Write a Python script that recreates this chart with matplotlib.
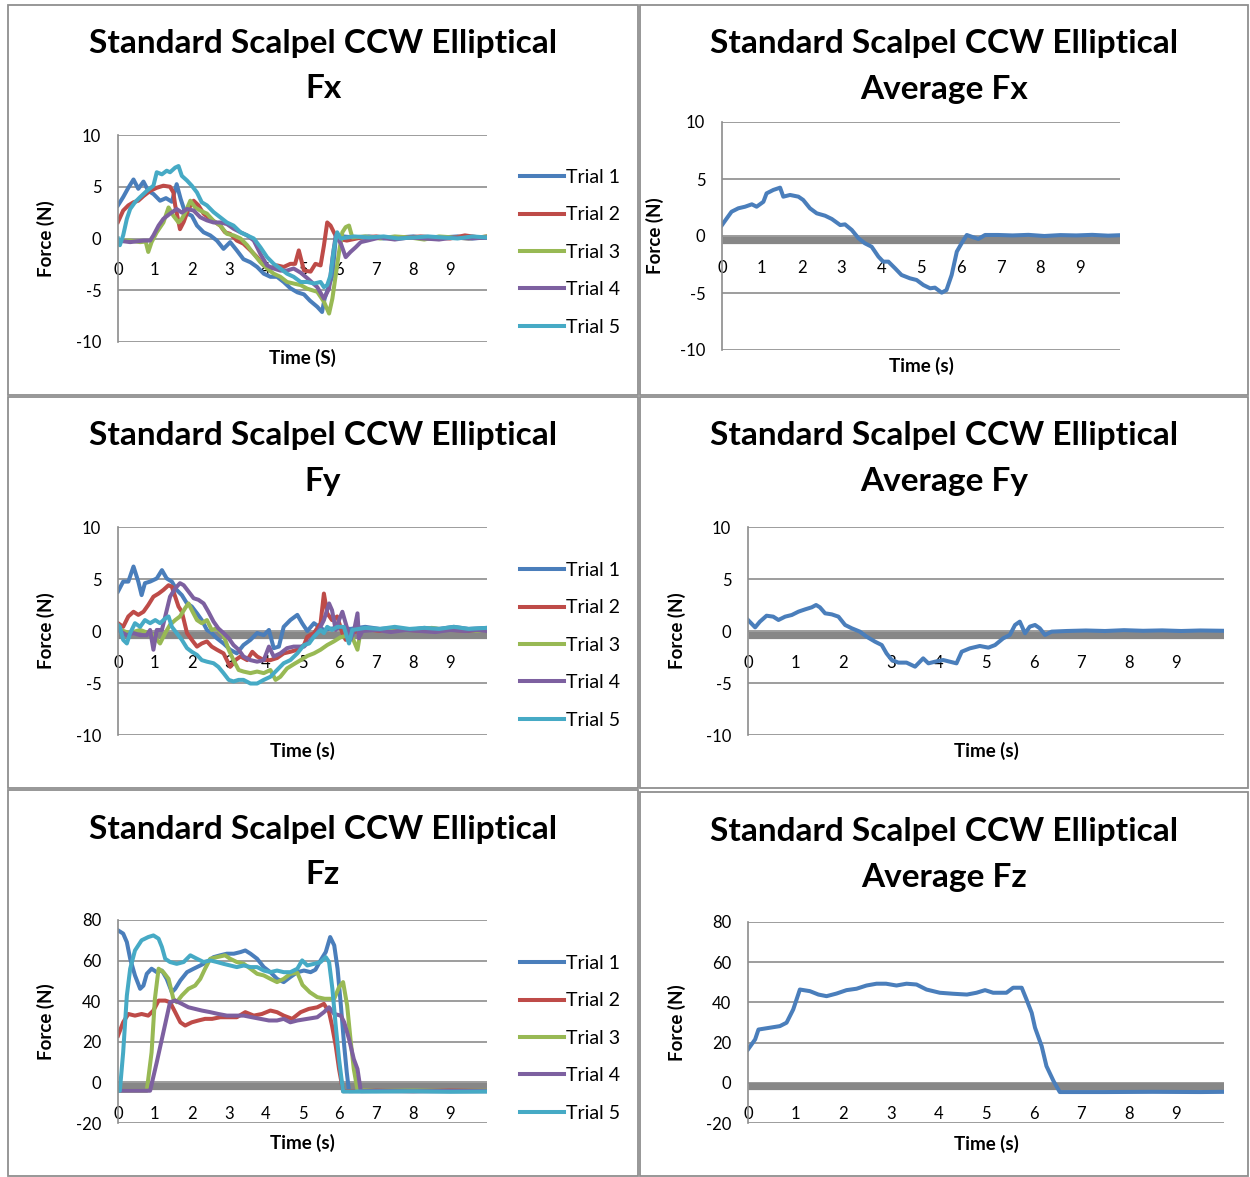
import matplotlib
matplotlib.use("Agg")
import matplotlib.pyplot as plt
import matplotlib.transforms as mtransforms
from matplotlib.patches import Rectangle

W, H = 1250, 1177
plt.rcParams['font.family'] = ['Lato', 'DejaVu Sans']
plt.rcParams['axes.unicode_minus'] = False

trial_labels = ['Trial 1', 'Trial 2', 'Trial 3', 'Trial 4', 'Trial 5']
trial_colors = ['#4A7EBB', '#BE4B48', '#98B954', '#7D60A0', '#46AAC5']
x_ticks = [0, 1, 2, 3, 4, 5, 6, 7, 8, 9]

# ---------------- Fx, five trials ----------------
fx1_t = [0.0, 0.14, 0.28, 0.42, 0.55, 0.69, 0.82, 0.96, 1.14, 1.3, 1.46, 1.59, 1.7, 1.82, 2.0, 2.14, 2.32, 2.5, 2.68, 2.86,
         3.04, 3.22, 3.4, 3.59, 3.77, 3.95, 4.13, 4.31, 4.49, 4.67, 4.86, 5.04, 5.2, 5.4, 5.53, 5.6, 5.81, 5.9, 6.1, 6.4,
         6.8, 7.2, 7.6, 8.0, 8.4, 8.8, 9.2, 9.6, 10.0]
fx1 = [3.2, 4.0, 4.9, 5.7, 4.8, 5.5, 4.6, 4.3, 3.65, 3.9, 3.55, 5.25, 3.8, 2.5, 2.2, 1.25, 0.6, 0.3, -0.2, -1.0,
       -0.35, -1.15, -2.0, -2.3, -2.75, -3.4, -3.7, -3.7, -4.2, -4.8, -5.2, -5.4, -6.0, -6.6, -7.1, -5.8, -3.6, 0.0, 0.2, 0.1,
       0.2, 0.0, 0.1, 0.2, 0.0, 0.1, 0.2, 0.0, 0.1]
fx2_t = [0.0, 0.14, 0.28, 0.42, 0.55, 0.69, 0.87, 1.05, 1.23, 1.41, 1.5, 1.55, 1.68, 1.78, 1.91, 2.05, 2.18, 2.32, 2.5, 2.77,
         2.9, 3.04, 3.22, 3.4, 3.59, 3.77, 3.95, 4.13, 4.31, 4.49, 4.67, 4.8, 4.9, 5.04, 5.22, 5.35, 5.49, 5.58, 5.67, 5.76,
         5.85, 5.94, 6.2, 6.6, 7.0, 7.4, 7.8, 8.2, 8.6, 9.0, 9.4, 9.8, 10.0]
fx2 = [1.6, 2.7, 3.2, 3.5, 3.65, 4.1, 4.6, 4.9, 5.1, 5.0, 4.45, 3.2, 0.9, 1.6, 2.85, 3.65, 3.2, 2.4, 1.9, 1.25,
       0.6, 0.45, -0.2, -0.5, -1.15, -1.8, -2.6, -2.9, -2.6, -2.75, -2.45, -2.45, -1.15, -3.1, -3.2, -2.45, -2.6, -0.7, 1.55, 1.25,
       0.6, 0.0, -0.2, 0.1, 0.2, 0.0, 0.1, 0.2, 0.1, 0.0, 0.3, 0.1, 0.2]
fx3_t = [0.0, 0.33, 0.6, 0.75, 0.82, 0.91, 1.05, 1.23, 1.37, 1.5, 1.64, 1.73, 1.82, 1.96, 2.09, 2.23, 2.41, 2.59, 2.77, 2.95,
         3.13, 3.32, 3.5, 3.68, 3.86, 4.04, 4.22, 4.4, 4.58, 4.76, 4.95, 5.13, 5.4, 5.58, 5.72, 5.81, 5.9, 5.99, 6.08, 6.17,
         6.26, 6.35, 6.7, 7.1, 7.5, 7.9, 8.3, 8.7, 9.1, 9.5, 10.0]
fx3 = [-0.2, -0.2, -0.35, -0.3, -1.3, -0.35, 0.6, 1.55, 3.0, 2.2, 1.55, 1.9, 2.5, 3.65, 3.0, 2.7, 2.4, 1.7, 1.25, 0.45,
       0.3, 0.0, -0.65, -1.5, -2.3, -2.9, -3.4, -3.7, -4.2, -4.35, -4.5, -4.85, -5.15, -6.1, -7.25, -5.8, -3.55, -1.3, 0.6, 1.1,
       1.25, 0.1, 0.2, 0.0, 0.2, 0.1, -0.1, 0.2, 0.1, 0.0, 0.2]
fx4_t = [0.0, 0.33, 0.69, 0.87, 0.96, 1.1, 1.23, 1.41, 1.59, 1.73, 1.87, 2.05, 2.23, 2.41, 2.59, 2.77, 2.95, 3.13, 3.32, 3.5,
         3.68, 3.86, 4.04, 4.22, 4.4, 4.58, 4.76, 4.95, 5.15, 5.4, 5.58, 5.72, 5.81, 5.9, 6.04, 6.17, 6.3, 6.44, 6.58, 6.76,
         7.1, 7.5, 7.9, 8.3, 8.7, 9.1, 9.5, 10.0]
fx4 = [-0.2, -0.35, -0.2, -0.2, 0.3, 1.25, 1.9, 2.4, 2.85, 2.5, 2.85, 2.7, 2.05, 1.75, 1.55, 1.55, 1.4, 0.95, 0.6, 0.3,
       -0.2, -1.5, -2.6, -2.9, -3.1, -3.1, -2.9, -3.3, -3.9, -4.7, -5.8, -4.85, -1.95, 0.3, -0.5, -1.8, -1.3, -0.85, -0.35, -0.2,
       0.1, -0.1, 0.1, 0.0, -0.1, 0.1, 0.0, 0.1]
fx5_t = [0.0, 0.05, 0.14, 0.24, 0.33, 0.46, 0.6, 0.78, 0.96, 1.05, 1.19, 1.32, 1.41, 1.55, 1.64, 1.73, 1.87, 2.0, 2.14, 2.27,
         2.41, 2.59, 2.77, 2.95, 3.13, 3.32, 3.5, 3.68, 3.86, 4.04, 4.22, 4.4, 4.58, 4.76, 4.95, 5.13, 5.31, 5.49, 5.58, 5.67,
         5.76, 5.85, 5.94, 6.03, 6.4, 6.8, 7.2, 7.6, 8.0, 8.4, 8.8, 9.2, 9.6, 10.0]
fx5 = [0.0, -0.65, 0.3, 1.9, 2.85, 3.5, 4.0, 4.6, 5.1, 6.4, 6.2, 6.55, 6.4, 6.85, 7.0, 6.05, 5.6, 5.1, 4.45, 3.5,
       3.2, 2.55, 2.05, 1.55, 1.25, 0.6, 0.3, 0.0, -0.85, -1.8, -2.45, -2.9, -3.4, -3.7, -4.2, -4.2, -4.35, -4.2, -4.7, -4.5,
       -3.55, -1.0, 0.6, 0.0, 0.2, 0.1, 0.2, 0.0, 0.1, 0.2, 0.1, 0.0, 0.2, 0.1]

# ---------------- Fy, five trials ----------------
fy1_t = [0.0, 0.14, 0.28, 0.42, 0.55, 0.64, 0.73, 0.87, 1.05, 1.19, 1.32, 1.46, 1.59, 1.73, 1.87, 2.0, 2.14, 2.27, 2.41, 2.54,
         2.68, 2.86, 3.04, 3.22, 3.4, 3.59, 3.77, 3.95, 4.09, 4.22, 4.36, 4.49, 4.67, 4.86, 4.99, 5.13, 5.31, 5.45, 5.58, 5.9,
         6.3, 6.7, 7.1, 7.5, 7.9, 8.3, 8.7, 9.1, 9.5, 10.0]
fy1 = [3.8, 4.75, 4.75, 6.2, 4.75, 3.45, 4.6, 4.75, 5.05, 5.85, 5.05, 4.75, 3.95, 3.45, 2.65, 2.35, 1.7, 1.05, 0.1, -0.2,
       -0.7, -1.2, -1.8, -2.15, -1.35, -0.85, -0.2, -0.4, 0.1, -1.65, -1.5, 0.4, 1.05, 1.55, 0.75, 0.0, 0.75, 0.4, 0.1, 0.3,
       0.2, 0.4, 0.2, 0.3, 0.1, 0.3, 0.2, 0.4, 0.2, 0.3]
fy2_t = [0.0, 0.14, 0.28, 0.42, 0.55, 0.69, 0.82, 0.96, 1.1, 1.23, 1.37, 1.46, 1.55, 1.64, 1.73, 1.87, 2.0, 2.14, 2.27, 2.41,
         2.54, 2.68, 2.86, 3.04, 3.18, 3.32, 3.5, 3.64, 3.77, 3.95, 4.13, 4.31, 4.49, 4.67, 4.86, 5.04, 5.13, 5.31, 5.49, 5.58,
         5.67, 5.8, 5.94, 6.08, 6.17, 6.3, 6.7, 7.1, 7.5, 7.9, 8.3, 8.7, 9.1, 9.5, 10.0]
fy2 = [0.75, 0.4, 1.4, 1.85, 1.55, 1.85, 2.5, 3.3, 3.6, 3.95, 4.4, 4.25, 3.3, 2.35, 1.85, -0.2, -0.85, -1.5, -1.2, -1.0,
       -1.5, -1.8, -2.15, -3.45, -2.8, -2.45, -2.8, -2.0, -2.45, -2.8, -2.8, -2.6, -2.15, -2.0, -1.8, -1.35, -0.55, -0.2, 0.75, 3.6,
       1.7, 1.05, 1.4, -0.2, -0.85, -0.2, 0.2, 0.0, 0.2, 0.1, 0.0, 0.2, 0.1, 0.0, 0.2]
fy3_t = [0.0, 0.3, 0.6, 0.9, 1.0, 1.14, 1.28, 1.41, 1.55, 1.68, 1.82, 1.91, 2.0, 2.14, 2.27, 2.41, 2.54, 2.68, 2.86, 3.0,
         3.13, 3.27, 3.4, 3.59, 3.77, 3.95, 4.13, 4.27, 4.4, 4.58, 4.76, 4.95, 5.13, 5.31, 5.49, 5.67, 5.85, 6.03, 6.2, 6.35,
         6.49, 6.58, 6.9, 7.3, 7.7, 8.1, 8.5, 8.9, 9.3, 9.7, 10.0]
fy3 = [0.2, -0.2, 0.1, -0.3, -0.6, -1.2, -0.2, 0.6, 1.05, 1.4, 2.2, 2.65, 2.0, 1.05, 0.75, 1.05, 0.1, 0.25, -0.4, -1.8,
       -2.8, -3.75, -3.9, -4.05, -3.9, -4.05, -3.75, -4.7, -4.4, -3.6, -3.2, -2.8, -2.4, -2.15, -1.8, -1.35, -1.0, -0.6, -0.45, -0.6,
       -1.8, 0.1, 0.2, 0.0, 0.2, 0.1, 0.3, 0.1, 0.2, 0.0, 0.2]
fy4_t = [0.0, 0.24, 0.42, 0.6, 0.78, 0.87, 0.96, 1.05, 1.19, 1.28, 1.41, 1.55, 1.68, 1.78, 1.91, 2.05, 2.18, 2.32, 2.45, 2.59,
         2.72, 2.86, 3.0, 3.13, 3.27, 3.4, 3.59, 3.77, 3.95, 4.09, 4.22, 4.4, 4.58, 4.76, 5.04, 5.22, 5.4, 5.58, 5.72, 5.8,
         5.9, 5.99, 6.08, 6.17, 6.3, 6.4, 6.49, 6.53, 6.62, 7.0, 7.4, 7.8, 8.2, 8.6, 9.0, 9.4, 9.8, 10.0]
fy4 = [0.1, -0.4, -0.2, -0.4, -0.4, 0.1, -1.8, 0.1, 0.1, 1.4, 3.3, 4.1, 4.6, 4.4, 3.8, 3.15, 3.0, 2.65, 1.85, 0.9,
       0.25, -0.2, -0.7, -1.35, -1.8, -2.45, -2.8, -2.95, -2.8, -1.5, -2.45, -2.15, -1.65, -1.5, -1.5, -0.85, -0.2, 1.05, 2.65, 2.0,
       0.1, 1.05, 1.85, 0.75, -0.85, 0.1, 1.7, -0.7, 0.0, 0.1, -0.1, 0.1, 0.0, -0.1, 0.1, 0.0, 0.1, 0.0]
fy5_t = [0.0, 0.05, 0.14, 0.24, 0.33, 0.46, 0.6, 0.73, 0.87, 1.01, 1.14, 1.28, 1.37, 1.46, 1.59, 1.73, 1.87, 2.0, 2.14, 2.27,
         2.41, 2.59, 2.72, 2.86, 3.0, 3.13, 3.27, 3.4, 3.59, 3.77, 3.95, 4.13, 4.31, 4.49, 4.67, 4.86, 5.04, 5.18, 5.31, 5.49,
         5.58, 5.67, 5.8, 5.94, 6.12, 6.26, 6.35, 6.7, 7.1, 7.5, 7.9, 8.3, 8.7, 9.1, 9.5, 10.0]
fy5 = [0.6, 0.4, -0.85, -1.2, -0.2, 0.75, 0.4, 1.05, 0.75, 1.05, 0.75, 1.2, 1.4, 0.4, -0.2, -0.85, -1.65, -2.0, -2.3, -2.8,
       -2.95, -3.1, -3.45, -4.05, -4.7, -4.85, -4.7, -4.7, -5.05, -5.05, -4.7, -4.4, -3.75, -3.1, -2.8, -2.15, -1.35, -1.2, -0.55, 0.1,
       -0.2, 0.4, 0.1, 0.4, 0.4, -1.2, 0.1, 0.3, 0.2, 0.4, 0.2, 0.3, 0.2, 0.4, 0.2, 0.3]

# ---------------- Fz, five trials ----------------
fz1_t = [0.0, 0.14, 0.24, 0.33, 0.46, 0.6, 0.69, 0.78, 0.91, 1.05, 1.19, 1.32, 1.46, 1.55, 1.69, 1.87, 2.05, 2.23, 2.41, 2.59,
         2.77, 2.95, 3.14, 3.32, 3.45, 3.59, 3.77, 3.95, 4.13, 4.31, 4.49, 4.67, 4.86, 5.04, 5.22, 5.35, 5.49, 5.63, 5.75, 5.86,
         5.95, 6.04, 6.13, 6.2, 6.26, 7.0, 8.0, 9.0, 10.0]
fz1 = [74.9, 73.3, 69.1, 60.9, 52.7, 46.1, 47.7, 53.5, 56.0, 54.3, 55.1, 51.0, 44.4, 46.1, 50.2, 54.3, 56.0, 57.6, 59.3, 61.7,
       62.6, 63.4, 63.4, 64.2, 65.0, 63.4, 60.9, 56.8, 54.3, 51.0, 49.4, 51.9, 54.3, 55.1, 54.3, 55.5, 60.1, 64.2, 71.6, 67.5,
       56.0, 37.9, 18.1, 4.9, -4.3, -4.3, -4.2, -4.4, -4.3]
fz2_t = [0.0, 0.14, 0.28, 0.46, 0.64, 0.82, 0.96, 1.1, 1.28, 1.41, 1.55, 1.69, 1.82, 2.0, 2.18, 2.36, 2.55, 2.77, 3.0, 3.22,
         3.45, 3.68, 3.9, 4.13, 4.31, 4.49, 4.72, 4.95, 5.17, 5.4, 5.58, 5.72, 5.8, 5.9, 5.99, 6.1, 7.0, 8.0, 9.0, 10.0]
fz2 = [23.0, 29.6, 33.7, 32.9, 33.7, 32.9, 35.4, 40.3, 40.3, 39.5, 34.6, 29.6, 28.0, 29.6, 30.5, 31.3, 31.3, 32.1, 32.1, 32.1,
       34.6, 32.9, 33.7, 35.4, 34.6, 32.9, 31.3, 34.6, 36.2, 37.0, 38.7, 34.6, 28.0, 18.1, 6.6, -4.3, -4.1, -4.3, -4.0, -4.2]
fz3_t = [0.0, 0.78, 0.91, 1.0, 1.1, 1.23, 1.37, 1.5, 1.59, 1.73, 1.91, 2.09, 2.23, 2.36, 2.5, 2.68, 2.9, 3.04, 3.22, 3.41,
         3.59, 3.77, 3.95, 4.13, 4.31, 4.49, 4.67, 4.86, 5.0, 5.2, 5.4, 5.6, 5.86, 5.99, 6.1, 6.21, 6.3, 6.39, 6.49, 7.0,
         8.0, 9.0, 10.0]
fz3 = [-4.1, -4.1, 14.8, 41.2, 56.0, 54.3, 51.0, 41.2, 39.5, 42.8, 46.1, 47.7, 51.0, 56.0, 60.9, 61.7, 62.6, 60.9, 59.3, 58.4,
       56.0, 53.5, 52.7, 51.0, 49.4, 51.0, 53.5, 54.0, 48.0, 44.4, 42.0, 41.2, 41.2, 46.9, 49.4, 37.9, 21.4, 6.6, -3.8, -4.2,
       -4.0, -4.2, -4.1]
fz4_t = [0.0, 0.87, 1.05, 1.23, 1.41, 1.55, 1.73, 1.91, 2.09, 2.27, 2.5, 2.72, 2.95, 3.18, 3.41, 3.63, 3.86, 4.09, 4.31, 4.49,
         4.67, 4.86, 5.13, 5.4, 5.58, 5.72, 5.86, 6.04, 6.13, 6.26, 6.39, 6.49, 6.58, 7.0, 8.0, 9.0, 10.0]
fz4 = [-4.1, -4.1, 9.9, 24.7, 39.5, 40.3, 38.7, 37.0, 36.2, 35.4, 34.6, 33.7, 32.9, 32.9, 32.9, 32.1, 31.3, 30.5, 30.5, 31.3,
       29.6, 30.5, 31.3, 32.1, 34.6, 37.0, 33.7, 32.9, 29.6, 21.4, 11.5, 6.6, -4.3, -4.2, -4.4, -4.2, -4.3]
fz5_t = [0.0, 0.05, 0.14, 0.24, 0.33, 0.46, 0.64, 0.82, 0.96, 1.1, 1.19, 1.28, 1.41, 1.59, 1.78, 1.96, 2.14, 2.32, 2.5, 2.68,
         2.86, 3.04, 3.22, 3.41, 3.59, 3.77, 3.95, 4.13, 4.31, 4.49, 4.67, 4.86, 4.99, 5.13, 5.31, 5.49, 5.63, 5.72, 5.81, 5.9,
         5.99, 6.1, 7.0, 8.0, 9.0, 10.0]
fz5 = [-4.1, -4.1, 14.8, 42.8, 56.0, 65.0, 70.0, 71.6, 72.4, 70.8, 66.7, 60.9, 59.3, 58.4, 59.3, 62.6, 60.9, 59.3, 60.1, 59.3,
       58.4, 57.6, 56.8, 57.6, 56.8, 56.8, 55.1, 54.3, 55.1, 54.3, 54.3, 56.0, 60.1, 57.6, 58.4, 59.3, 61.7, 59.3, 46.1, 28.0,
       11.5, -4.5, -4.5, -4.4, -4.6, -4.5]

# ---------------- averages ----------------
avg_fx_t = [0.0, 0.12, 0.24, 0.41, 0.58, 0.75, 0.87, 1.04, 1.12, 1.29, 1.46, 1.54, 1.71, 1.92, 2.04, 2.21, 2.38, 2.59, 2.76, 2.97,
            3.09, 3.26, 3.43, 3.59, 3.76, 3.93, 4.05, 4.18, 4.35, 4.51, 4.72, 4.89, 5.06, 5.23, 5.35, 5.52, 5.64, 5.77, 5.9, 6.02,
            6.15, 6.27, 6.44, 6.61, 6.94, 7.3, 7.7, 8.1, 8.5, 8.9, 9.3, 9.7, 10.0]
avg_fx = [0.96, 1.55, 2.13, 2.43, 2.57, 2.78, 2.57, 3.0, 3.74, 4.04, 4.24, 3.45, 3.6, 3.45, 3.16, 2.43, 1.99, 1.78, 1.49, 0.96,
          1.02, 0.53, -0.2, -0.64, -0.94, -1.81, -2.25, -2.25, -2.84, -3.42, -3.71, -3.86, -4.3, -4.59, -4.53, -4.97, -4.74, -3.42, -1.37, -0.64,
          0.09, -0.06, -0.26, 0.09, 0.09, 0.05, 0.1, 0.0, 0.08, 0.05, 0.1, 0.03, 0.07]
avg_fy_t = [0.0, 0.15, 0.25, 0.39, 0.53, 0.64, 0.78, 0.92, 1.06, 1.2, 1.34, 1.43, 1.51, 1.62, 1.76, 1.9, 2.04, 2.18, 2.35, 2.49,
            2.67, 2.81, 2.91, 3.02, 3.16, 3.33, 3.51, 3.68, 3.79, 3.93, 4.1, 4.24, 4.38, 4.49, 4.66, 4.87, 5.05, 5.19, 5.36, 5.5,
            5.61, 5.71, 5.82, 5.92, 6.03, 6.13, 6.24, 6.38, 6.69, 7.1, 7.5, 7.9, 8.3, 8.7, 9.1, 9.5, 10.0]
avg_fy = [1.06, 0.35, 0.9, 1.47, 1.38, 1.06, 1.38, 1.54, 1.86, 2.08, 2.28, 2.5, 2.28, 1.7, 1.6, 1.38, 0.58, 0.26, -0.06, -0.54,
          -1.03, -1.35, -2.15, -2.79, -3.04, -3.04, -3.43, -2.63, -3.11, -2.95, -2.79, -2.95, -3.11, -1.99, -1.67, -1.44, -1.6, -1.35, -0.71, -0.38,
          0.58, 0.9, -0.22, 0.42, 0.58, 0.26, -0.38, -0.06, 0.0, 0.05, 0.0, 0.08, 0.02, 0.06, 0.0, 0.05, 0.02]
avg_fz_t = [0.0, 0.15, 0.22, 0.46, 0.67, 0.81, 0.95, 1.09, 1.3, 1.48, 1.65, 1.86, 2.07, 2.28, 2.49, 2.7, 2.9, 3.12, 3.33, 3.54,
            3.75, 4.03, 4.31, 4.6, 4.8, 4.98, 5.15, 5.43, 5.57, 5.75, 5.85, 5.96, 6.03, 6.17, 6.27, 6.42, 6.55, 7.5, 8.5, 9.5,
            10.0]
avg_fz = [16.6, 21.6, 26.5, 27.4, 28.2, 29.9, 36.5, 46.4, 45.6, 43.9, 43.1, 44.4, 46.1, 46.8, 48.4, 49.3, 49.3, 48.4, 49.3, 48.9,
          46.4, 44.8, 44.3, 43.9, 44.8, 46.1, 44.8, 44.8, 47.3, 47.3, 41.5, 34.8, 27.4, 18.2, 8.3, 0.8, -4.6, -4.6, -4.5, -4.6,
          -4.5]

fig = plt.figure(figsize=(W / 100, H / 100), dpi=100)
fig.patch.set_facecolor('white')


def px_box(x0, y0, x1, y1):
    return [x0 / W, 1 - y1 / H, (x1 - x0) / W, (y1 - y0) / H]


# panel frames
for x0, y0, x1, y1 in [(8, 5, 638, 395), (640, 5, 1248, 395), (8, 397, 638, 788),
                       (640, 397, 1248, 788), (8, 790, 638, 1176), (640, 792, 1248, 1176)]:
    fig.add_artist(Rectangle((x0 / W, 1 - y1 / H), (x1 - x0) / W, (y1 - y0) / H,
                             transform=fig.transFigure, fill=False, ec='#8F8F8F', lw=1.3))


def make_panel(rect, ylim, ystep, zero_bar=True):
    ax = fig.add_axes(px_box(*rect))
    ax.set_xlim(0, 10)
    ax.set_ylim(*ylim)
    ax.set_yticks(range(ylim[0], ylim[1] + 1, ystep))
    ax.set_xticks(x_ticks)
    ax.set_xticklabels([str(v) for v in x_ticks])
    ax.grid(axis='y', color='#8C8C8C', lw=1.2)
    ax.set_axisbelow(True)
    for s in ['top', 'right']:
        ax.spines[s].set_visible(False)
    ax.spines['left'].set_color('#8C8C8C')
    ax.spines['left'].set_linewidth(1.2)
    ax.spines['bottom'].set_position(('data', 0))
    ax.spines['bottom'].set_visible(False)
    ax.tick_params(axis='x', length=0, pad=17, labelsize=12)
    ax.tick_params(axis='y', length=0, pad=12, labelsize=12)
    if zero_bar:
        # thick grey category axis drawn just under the zero line, as in Excel
        shift = mtransforms.offset_copy(ax.transData, fig=fig, y=-3.5, units='dots')
        ax.plot([0, 10], [0, 0], color='#878787', lw=5.2, transform=shift, zorder=1.5,
                solid_capstyle='butt')
    return ax


def titles(cx, y1, line2):
    fig.text(cx / W, 1 - y1 / H, 'Standard Scalpel CCW Elliptical', ha='center', va='center',
             fontsize=24, fontweight='bold')
    fig.text(cx / W, 1 - (y1 + 46) / H, line2, ha='center', va='center',
             fontsize=24, fontweight='bold')


def labels(ax, xlabel, xl_y, ylab_x):
    rect = ax.get_position()
    cx = (rect.x0 + rect.x1) / 2
    cy = (rect.y0 + rect.y1) / 2
    fig.text(cx, 1 - xl_y / H, xlabel, ha='center', va='center', fontsize=13.5, fontweight='bold')
    fig.text(ylab_x / W, cy, 'Force (N)', ha='center', va='center', rotation=90,
             fontsize=13.5, fontweight='bold')


def add_legend(ax, top_y):
    ax.legend(loc='upper left', bbox_to_anchor=(520 / W, 1 - top_y / H), bbox_transform=fig.transFigure,
              frameon=False, fontsize=14, handlelength=2.25, handletextpad=0.12, labelspacing=1.05,
              borderpad=0, borderaxespad=0)


LW = 2.9

# ---- Fx trials ----
ax = make_panel((118, 135, 487, 342), (-10, 10), 5, zero_bar=False)
for t, v, c, lab in zip([fx1_t, fx2_t, fx3_t, fx4_t, fx5_t], [fx1, fx2, fx3, fx4, fx5], trial_colors, trial_labels):
    ax.plot(t, v, color=c, lw=LW, label=lab)
titles(323, 43, 'Fx')
labels(ax, 'Time (S)', 358, 46)
add_legend(ax, 169)

# ---- average Fx ----
ax = make_panel((722, 122, 1120, 350), (-10, 10), 5)
ax.plot(avg_fx_t, avg_fx, color=trial_colors[0], lw=LW)
titles(944, 43, 'Average Fx')
labels(ax, 'Time (s)', 366, 655)

# ---- Fy trials ----
ax = make_panel((118, 527, 487, 735), (-10, 10), 5)
for t, v, c, lab in zip([fy1_t, fy2_t, fy3_t, fy4_t, fy5_t], [fy1, fy2, fy3, fy4, fy5], trial_colors, trial_labels):
    ax.plot(t, v, color=c, lw=LW, label=lab)
titles(323, 436, 'Fy')
labels(ax, 'Time (s)', 751, 46)
add_legend(ax, 562)

# ---- average Fy ----
ax = make_panel((748, 527, 1224, 735), (-10, 10), 5)
ax.plot(avg_fy_t, avg_fy, color=trial_colors[0], lw=LW)
titles(944, 436, 'Average Fy')
labels(ax, 'Time (s)', 751, 677)

# ---- Fz trials ----
ax = make_panel((118, 920, 487, 1123), (-20, 80), 20)
for t, v, c, lab in zip([fz1_t, fz2_t, fz3_t, fz4_t, fz5_t], [fz1, fz2, fz3, fz4, fz5], trial_colors, trial_labels):
    ax.plot(t, v, color=c, lw=LW, label=lab)
titles(323, 829, 'Fz')
labels(ax, 'Time (s)', 1143, 46)
add_legend(ax, 955)

# ---- average Fz ----
ax = make_panel((748, 922, 1224, 1123), (-20, 80), 20)
ax.plot(avg_fz_t, avg_fz, color=trial_colors[0], lw=LW)
titles(944, 832, 'Average Fz')
labels(ax, 'Time (s)', 1144, 677)

fig.savefig('out.png', dpi=100)
